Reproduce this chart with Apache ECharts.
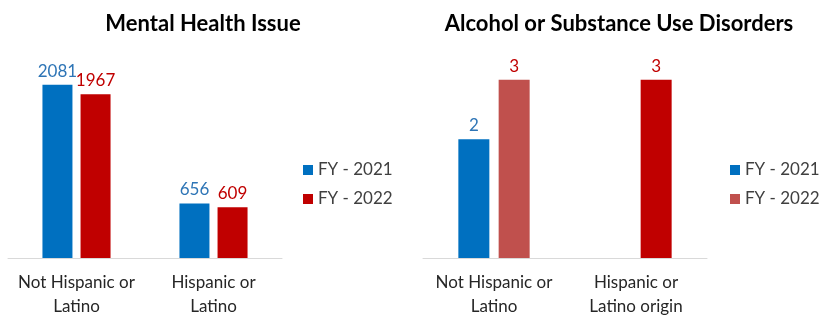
<!DOCTYPE html>
<html>
<head>
<meta charset="utf-8">
<script src="https://cdn.jsdelivr.net/npm/echarts@6/dist/echarts.min.js"></script>
<style>
  html, body { margin: 0; padding: 0; background: #fff; }
  #wrap { position: relative; width: 821px; height: 320px; }
  #left { position: absolute; left: 0; top: 0; width: 410px; height: 320px; }
  #right { position: absolute; left: 410px; top: 0; width: 411px; height: 320px; }
</style>
</head>
<body>
<div id="wrap"><div id="left"></div><div id="right"></div></div>
<script>
// Series names shared by both panels
const seriesNames = ['FY - 2021', 'FY - 2022'];

// Mental Health Issue panel
const mhTitle = 'Mental Health Issue';
const mhCategories = ['Not Hispanic or\nLatino', 'Hispanic or\nLatino'];
const mh2021 = [2081, 656];
const mh2022 = [1967, 609];

// Alcohol or Substance Use Disorders panel
const asTitle = 'Alcohol or Substance Use Disorders';
const asCategories = ['Not Hispanic or\nLatino', 'Hispanic or\nLatino origin'];
const as2021 = [2, null];
const as2022 = [3, 3];

const FONT = 'Lato, "Open Sans", sans-serif';
const BLUE = '#0070C0';
const RED = '#C00000';
const ROSE = '#C0504D';

function panel(el, opts) {
  const chart = echarts.init(document.getElementById(el), null, { renderer: 'canvas' });
  const labelBase = { show: true, position: 'top', distance: 5, fontFamily: FONT, fontSize: 17 };
  chart.setOption({
    animation: false,
    textStyle: { fontFamily: FONT },
    title: {
      text: opts.title,
      left: opts.titleX,
      textAlign: 'center',
      top: 8,
      textStyle: { fontFamily: FONT, fontSize: 22, fontWeight: 'bold', color: '#000' }
    },
    legend: {
      orient: 'vertical',
      left: opts.legendX,
      top: 155,
      itemWidth: 10,
      itemHeight: 10,
      itemGap: 9,
      icon: 'rect',
      textStyle: { fontFamily: FONT, fontSize: 17, color: '#404040', lineHeight: 20 },
      data: [
        { name: seriesNames[0], itemStyle: { color: BLUE } },
        { name: seriesNames[1], itemStyle: { color: opts.legend2022 } }
      ]
    },
    grid: { left: opts.gridLeft, right: opts.gridRight, top: 50, bottom: 62 },
    xAxis: {
      type: 'category',
      data: opts.categories,
      axisLine: { lineStyle: { color: '#D9D9D9', width: 1 } },
      axisTick: { show: false },
      axisLabel: { fontFamily: FONT, fontSize: 17, color: '#262626', lineHeight: 24, margin: 13, interval: 0 }
    },
    yAxis: {
      type: 'value',
      min: 0,
      max: opts.yMax,
      show: false,
      splitLine: { show: false }
    },
    series: [
      {
        name: seriesNames[0],
        type: 'bar',
        barWidth: opts.barWidth,
        barGap: opts.barGap,
        itemStyle: { color: BLUE },
        label: Object.assign({ color: '#2E75B6' }, labelBase),
        data: opts.v2021
      },
      {
        name: seriesNames[1],
        type: 'bar',
        barWidth: opts.barWidth,
        barGap: opts.barGap,
        itemStyle: { color: opts.legend2022 },
        label: Object.assign({ color: RED }, labelBase),
        data: opts.v2022.map((v, i) => ({
          value: v,
          itemStyle: { color: opts.colors2022[i] }
        }))
      }
    ]
  });
}

panel('left', {
  title: mhTitle, titleX: 198, legendX: 298,
  gridLeft: 8, gridRight: 128, yMax: 2500,
  categories: mhCategories, v2021: mh2021, v2022: mh2022,
  barWidth: 30, barGap: '27%',
  legend2022: RED, colors2022: [RED, RED]
});

panel('right', {
  title: asTitle, titleX: 204, legendX: 315,
  gridLeft: 13, gridRight: 114, yMax: 3.5,
  categories: asCategories, v2021: as2021, v2022: as2022,
  barWidth: 31, barGap: '30%',
  legend2022: ROSE, colors2022: [ROSE, RED]
});
</script>
</body>
</html>
